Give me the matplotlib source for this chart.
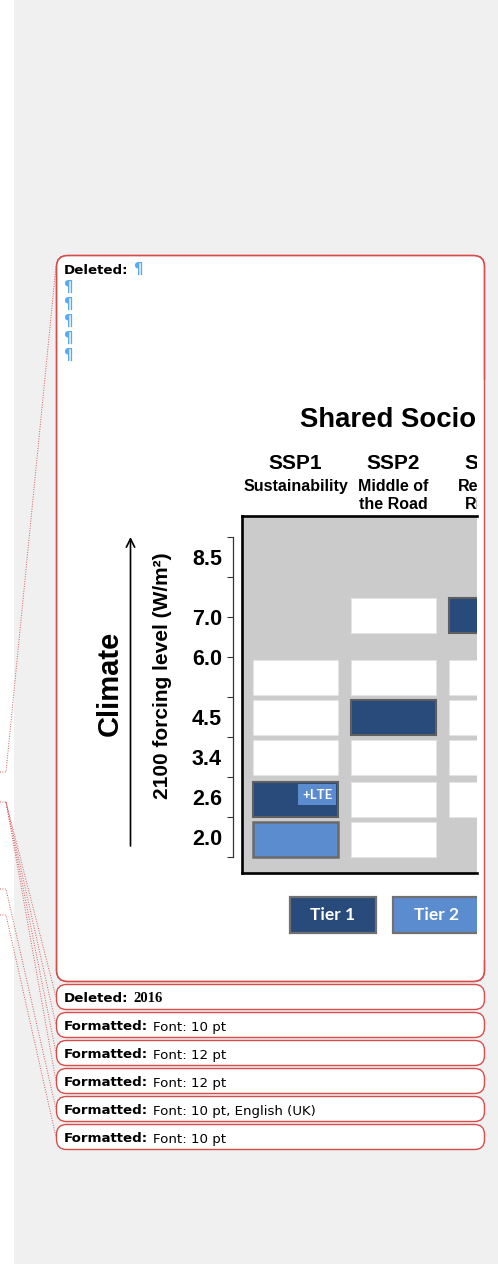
import matplotlib
matplotlib.use("Agg")
import matplotlib.pyplot as plt
from matplotlib.patches import FancyBboxPatch, Rectangle
from matplotlib.transforms import blended_transform_factory
import numpy as np

plt.rcParams["font.family"] = ["Liberation Sans", "DejaVu Sans"]

# forcing levels (top to bottom) and the SSP columns
levels = ["8.5", "7.0", "6.0", "4.5", "3.4", "2.6", "2.0"]
ssps = ["SSP1", "SSP2", "SSP3"]
ssp_desc = [["Sustainability"], ["Middle of", "the Road"], ["Regional", "Rivalry"]]
# 0 = no run, 1 = Tier 1, 2 = Tier 2, 3 = other combination (white box)
runs = [
    [0, 0, 0],
    [0, 3, 1],
    [3, 3, 3],
    [3, 1, 3],
    [3, 3, 3],
    [1, 3, 3],
    [2, 3, 0],
]
lte_cell = ("2.6", "SSP1")
tiers = ["Tier 1", "Tier 2"]
title = "Shared Socioeconomic Pathways"

# comment balloons of the document
notes = [("Deleted:", "2016"),
         ("Formatted:", "Font: 10 pt"),
         ("Formatted:", "Font: 12 pt"),
         ("Formatted:", "Font: 12 pt"),
         ("Formatted:", "Font: 10 pt, English (UK)"),
         ("Formatted:", "Font: 10 pt")]
n_pilcrows = 5

# layout (slot units of the forcing axis, 0 at the bottom tick)
row_y = [7.5, 6.05, 4.5, 3.5, 2.5, 1.45, 0.45]
label_y = [7.5, 6, 5, 3.5, 2.5, 1.5, 0.5]
cell_w, cell_h = 0.867, 0.875

dark = "#284b7c"
light = "#5b8ccf"
red = "#d94c4c"
pil = "#58aaf2"
page = "#f0f0f0"

W, H = 498, 1264
fig = plt.figure(figsize=(W / 100, H / 100), dpi=100, facecolor=page)


def fax(l, t, r, b):
    return [l / W, 1 - b / H, (r - l) / W, (b - t) / H]


bg = fig.add_axes([0, 0, 1, 1])
bg.set_xlim(0, W)
bg.set_ylim(H, 0)
bg.axis("off")
bg.add_patch(Rectangle((0, 0), 14, H, color="white", lw=0))

# dotted connector lines from the page to the balloons
links = [[(0, 772), (6, 772), (56, 266)],
         [(0, 802), (6, 802), (56, 997)],
         [(6, 802), (56, 1025)],
         [(6, 802), (56, 1053)],
         [(6, 802), (56, 1081)],
         [(0, 889), (6, 889), (56, 1109)],
         [(0, 915), (6, 915), (56, 1137)]]
for pts in links:
    xs, ys = zip(*pts)
    bg.plot(xs, ys, color="#d85a5a", lw=0.7, ls=(0, (1, 1.5)))

# main balloon holding the figure
balloon = dict(boxstyle="round,pad=0,rounding_size=11", ec=red, lw=1.0)
bg.add_patch(FancyBboxPatch((56.5, 255.5), 428, 726, fc="white", **balloon))
t = bg.text(64, 274, "Deleted:", fontsize=9.6, fontweight="bold",
            family="DejaVu Sans", va="baseline")
bg.annotate("¶", xy=(1, 0), xycoords=t, xytext=(3, 0), textcoords="offset points",
            va="bottom", fontsize=10.5, fontweight="bold", color=pil,
            family="DejaVu Sans")
for k in range(n_pilcrows):
    bg.text(63.5, 287 + 17 * k, "¶", fontsize=10.5, fontweight="bold",
            color=pil, family="DejaVu Sans", va="center")

# small balloons
for i, (head, body) in enumerate(notes):
    top = 984.5 + 28 * i
    bg.add_patch(FancyBboxPatch((56.5, top), 428, 25,
                                boxstyle="round,pad=0,rounding_size=10",
                                fc="white", ec=red, lw=1.0))
    t = bg.text(64, top + 18, head, fontsize=9.6, fontweight="bold",
                family="DejaVu Sans", va="baseline")
    if body.isdigit():
        bg.annotate(body, xy=(1, 0), xycoords=t, xytext=(3.5, 0),
                    textcoords="offset points", va="bottom", fontsize=10.5,
                    fontweight="bold", family="Liberation Serif")
    else:
        bg.annotate(body, xy=(1, 0), xycoords=t, xytext=(3.5, 0),
                    textcoords="offset points", va="bottom", fontsize=9.6,
                    family="DejaVu Sans")

# the matrix of runs
ax = fig.add_axes(fax(241.7, 516, 477, 873))
ax.set_facecolor("#cbcbcb")
ax.set_xlim(-0.549, 1.852)
ax.set_ylim(-0.4, 8.525)
ax.set_xticks([])
ax.set_yticks([])
for s in ["top", "left", "bottom"]:
    ax.spines[s].set_linewidth(1.9)
    ax.spines[s].set_color("black")
ax.spines["right"].set_visible(False)

style = {1: dict(color=dark, edgecolor="#5f5f5f", linewidth=1.5),
         2: dict(color=light, edgecolor="#6a6a6a", linewidth=1.8),
         3: dict(color="white", edgecolor="#e4e4e4", linewidth=0.6)}
for r, lev in enumerate(levels):
    for c in range(len(ssps)):
        code = runs[r][c]
        if code == 0:
            continue
        ax.bar(c, cell_h, bottom=row_y[r] - cell_h / 2, width=cell_w, **style[code])

r = levels.index(lte_cell[0])
c = ssps.index(lte_cell[1])
ax.bar(c + 0.22, 0.525, bottom=row_y[r] - 0.15, width=0.39, color=light, linewidth=0)
ax.text(c + 0.22, row_y[r] + 0.11, "+LTE", color="white", fontsize=9.5,
        fontweight="bold", ha="center", va="center", family=["Lato", "DejaVu Sans"])

# headers
tr = blended_transform_factory(ax.transData, bg.transData)
bg.text(300, 427, title, fontsize=19.8, fontweight="bold", va="baseline")
for c, name in enumerate(ssps):
    bg.text(c, 469, name, transform=tr, fontsize=15, fontweight="bold",
            ha="center", va="baseline")
    for k, line in enumerate(ssp_desc[c]):
        bg.text(c, 491 + 18.3 * k, line, transform=tr, fontsize=11.5,
                fontweight="bold", ha="center", va="baseline")

# forcing axis
tax = fig.add_axes(fax(233, 537, 233.5, 857))
tax.patch.set_visible(False)
tax.set_ylim(0, 8)
tax.set_xticks([])
for s in ["top", "right", "bottom"]:
    tax.spines[s].set_visible(False)
tax.spines["left"].set_linewidth(0.9)
tax.spines["left"].set_color("#333333")
tax.yaxis.remove_overlapping_locs = False
tax.set_yticks(np.arange(0, 9), minor=True)
tax.set_yticks(label_y, levels)
tax.tick_params(axis="y", which="minor", length=4.5, width=0.8, color="#333333")
tax.tick_params(axis="y", which="major", length=0, pad=8, labelsize=15.5)
for lab in tax.get_yticklabels():
    lab.set_fontweight("bold")

bg.text(163, 676, "2100 forcing level (W/m²)", rotation=90, ha="center",
        va="center", fontsize=15, fontweight="bold")
bg.text(110, 683, "Climate", rotation=90, ha="center", va="center",
        fontsize=21, fontweight="bold")
bg.annotate("", xy=(130.5, 537), xytext=(130.5, 846),
            arrowprops=dict(arrowstyle="->,head_length=0.6,head_width=0.3",
                            lw=1.2, color="black", shrinkA=0, shrinkB=0))

# tier legend
for i, name in enumerate(tiers):
    x0 = 290 + 103 * i
    bg.add_patch(Rectangle((x0, 897), 86, 36, fc=[dark, light][i],
                           ec="#707070", lw=1.6))
    bg.text(x0 + 43, 915.5, name, color="white", fontsize=12.5,
            fontweight="bold", ha="center", va="center",
            family=["Lato", "DejaVu Sans"])

# the pasted picture is cut at x = 477: cover what runs past it
bg.add_patch(Rectangle((477, 380), 7.5, 580, fc="white", lw=0, zorder=8))
bg.add_patch(Rectangle((485, 380), 13, 580, fc=page, lw=0, zorder=8))
bg.add_patch(FancyBboxPatch((56.5, 255.5), 428, 726, fc="none", zorder=9, **balloon))

fig.savefig("out.png", dpi=100, facecolor=fig.get_facecolor())
